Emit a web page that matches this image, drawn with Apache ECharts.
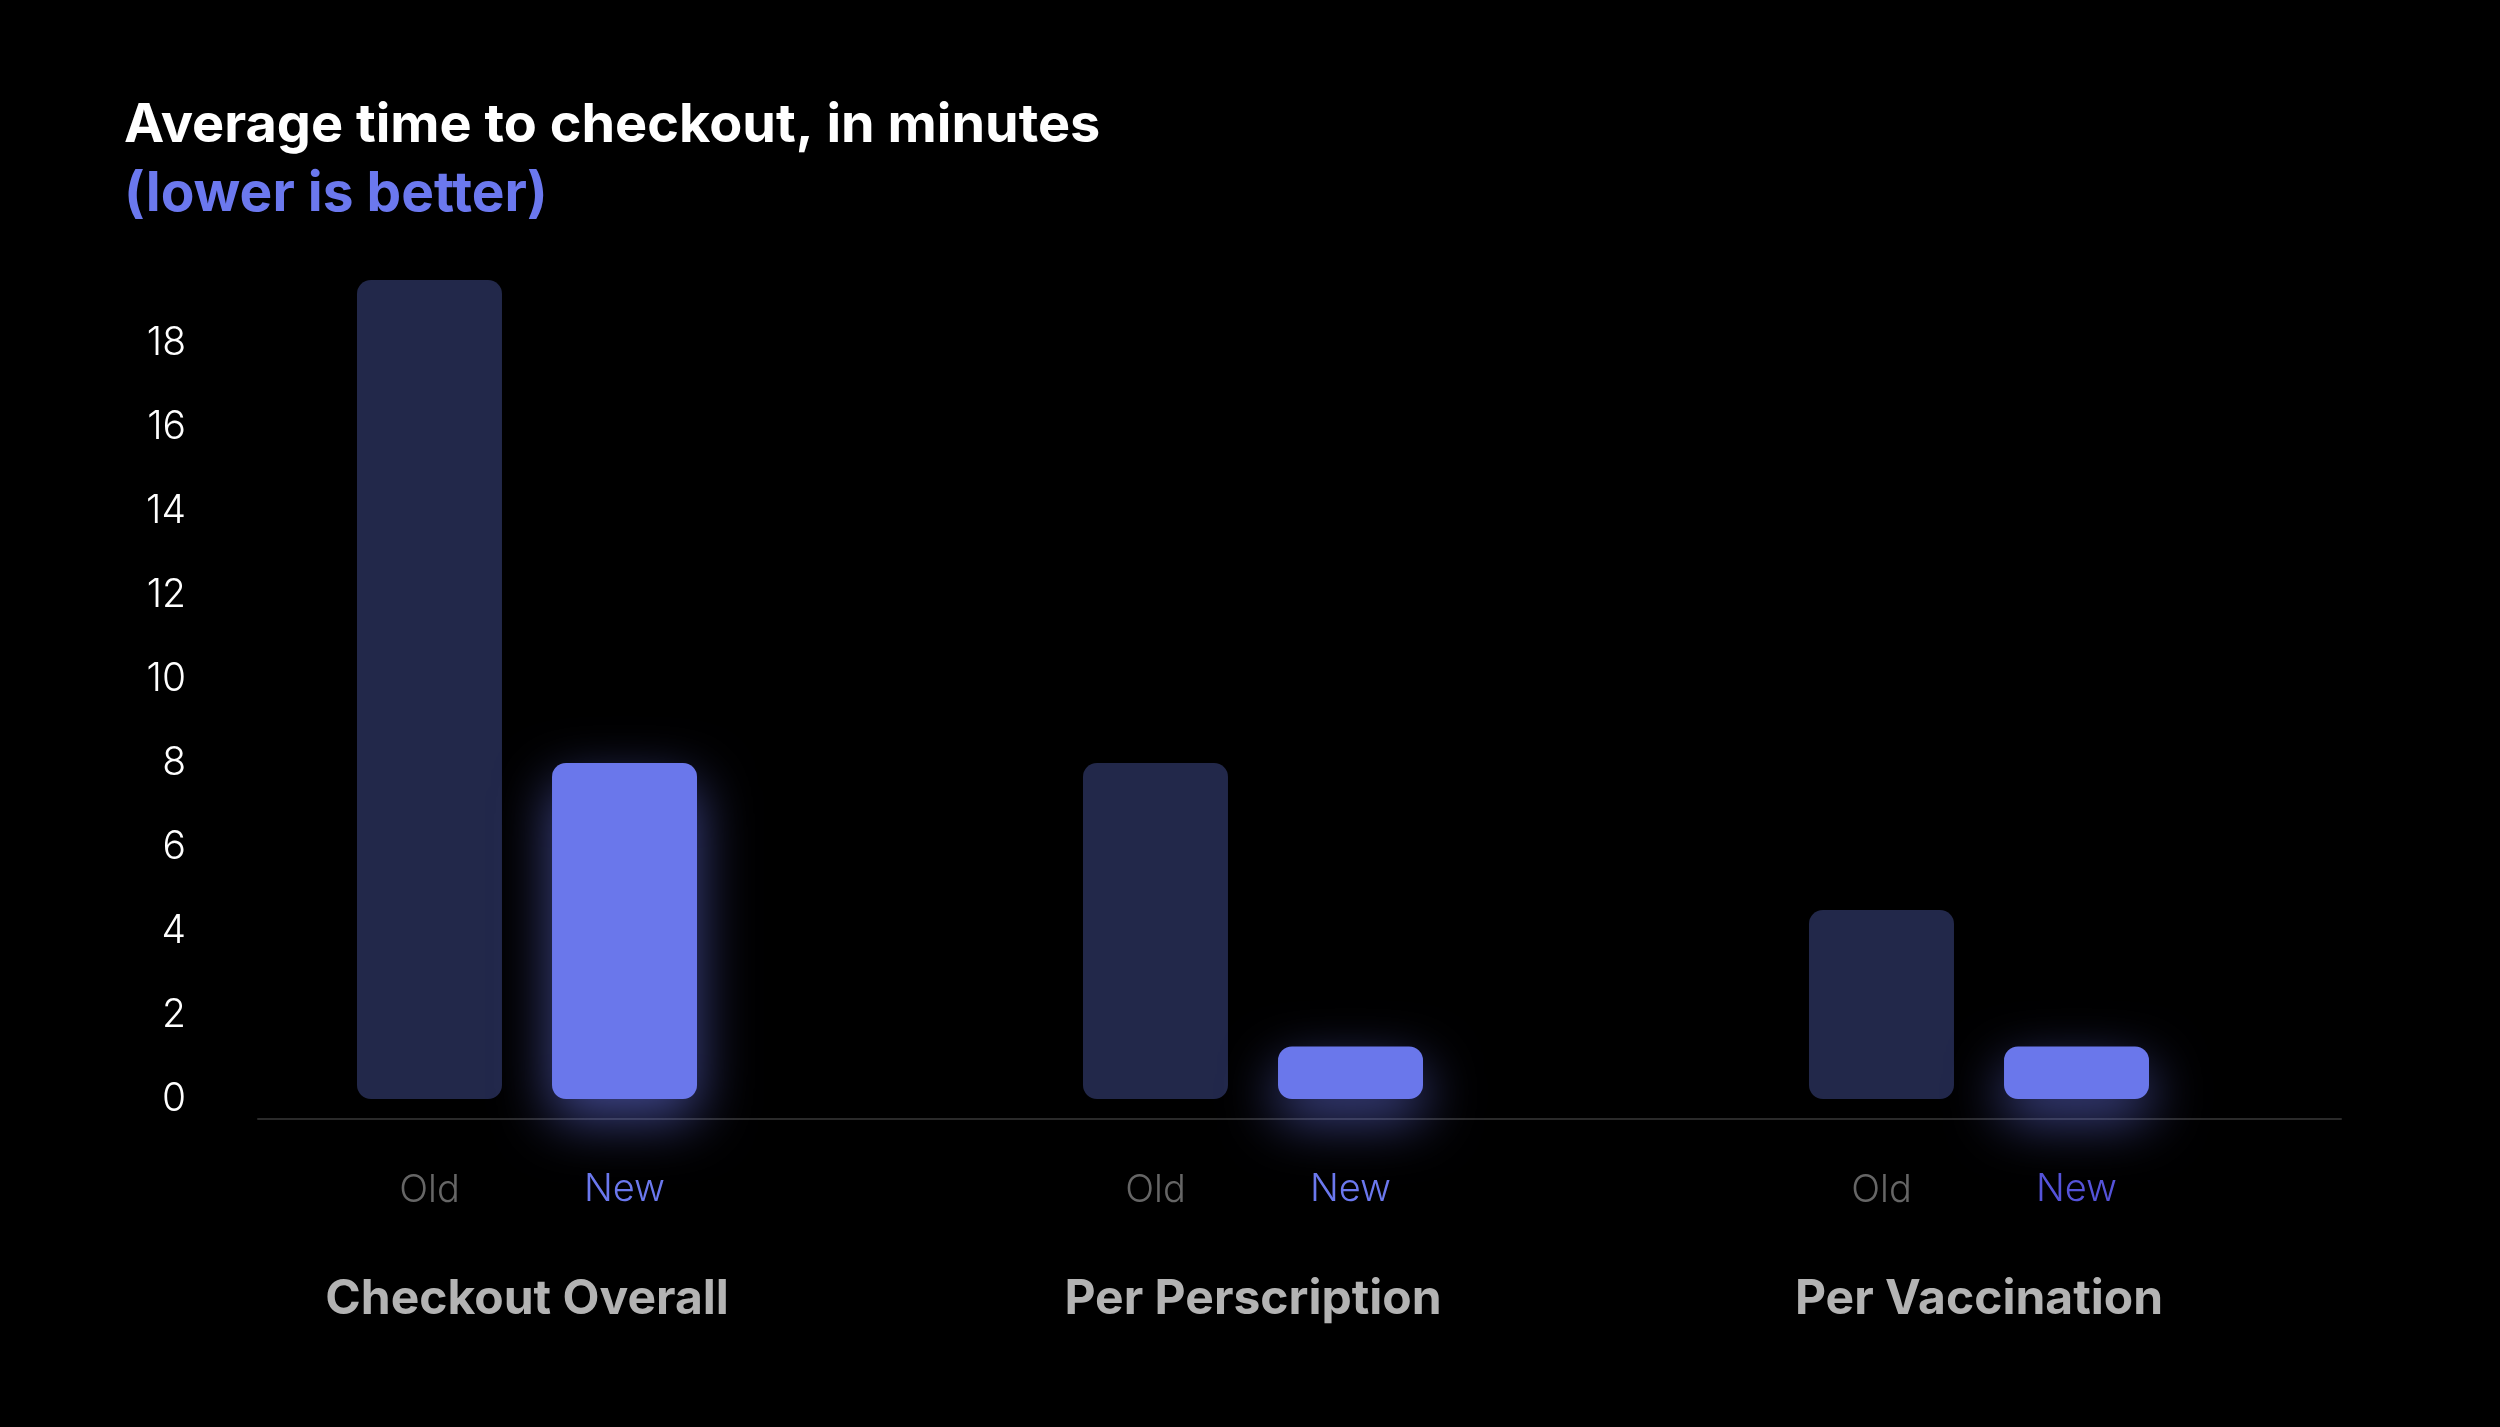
<!DOCTYPE html>
<html>
<head>
<meta charset="utf-8">
<script src="https://cdn.jsdelivr.net/npm/echarts@6/dist/echarts.min.js"></script>
<style>
html,body{margin:0;padding:0;background:#000;}
#chart{width:2500px;height:1427px;}
</style>
</head>
<body>
<div id="chart"></div>
<script>
const categories = ['Checkout Overall', 'Per Perscription', 'Per Vaccination'];
const oldValues = [19.5, 8, 4.5];
const newValues = [8, 1.25, 1.25];
const seriesNames = ['Old', 'New'];
const yMin = 0, yMax = 20, yInterval = 2;

const BOLD_FONT = 'Inter';
const LIGHT_FONT = 'Inter';
const newLabelColors = ['#6b78ee', '#6b78ee', '#5553d9'];

const chart = echarts.init(document.getElementById('chart'), null, {renderer: 'canvas'});
chart.setOption({
  backgroundColor: '#000000',
  animation: false,
  title: {
    text: 'Average time to checkout, in minutes',
    subtext: '(lower is better)',
    left: 124,
    top: 99,
    padding: 0,
    itemGap: 14,
    textStyle: {color: '#ffffff', fontFamily: BOLD_FONT, fontWeight: 'bold', fontSize: 54, lineHeight: 54},
    subtextStyle: {color: '#6b78ee', fontFamily: BOLD_FONT, fontWeight: 'bold', fontSize: 55, lineHeight: 55}
  },
  grid: [
    {left: 164, right: 158, top: 259, bottom: 328},
    {left: 258, right: 159, top: 1000, bottom: 308}
  ],
  xAxis: [
    {
      type: 'category', gridIndex: 0, data: categories,
      axisLine: {show: false}, axisTick: {show: false}, splitLine: {show: false},
      axisLabel: {margin: 177, color: '#b3b3b3', fontFamily: BOLD_FONT, fontWeight: 'bold', fontSize: 48}
    },
    {
      type: 'value', gridIndex: 1, min: 0, max: 1,
      axisLine: {show: true, lineStyle: {color: '#2a2a2a', width: 2}},
      axisTick: {show: false}, axisLabel: {show: false}, splitLine: {show: false}
    }
  ],
  yAxis: [
    {
      type: 'value', gridIndex: 0, min: yMin, max: yMax, interval: yInterval,
      axisLine: {show: false}, axisTick: {show: false}, splitLine: {show: false},
      axisLabel: {showMaxLabel: false, margin: -22, color: '#ffffff', fontFamily: LIGHT_FONT, fontWeight: 300, fontSize: 39}
    },
    {type: 'value', gridIndex: 1, show: false, min: 0, max: 1}
  ],
  series: [
    {
      name: seriesNames[0], type: 'bar', xAxisIndex: 0, yAxisIndex: 0,
      data: oldValues,
      barWidth: 145, barGap: '34.5%',
      itemStyle: {color: '#22284a', borderRadius: 14},
      label: {show: true, position: 'bottom', distance: 73, formatter: '{a}',
        color: '#666666', fontFamily: LIGHT_FONT, fontWeight: 300, fontSize: 38}
    },
    {
      name: seriesNames[1], type: 'bar', xAxisIndex: 0, yAxisIndex: 0,
      data: newValues.map((v, i) => ({value: v, label: {color: newLabelColors[i]}})),
      barWidth: 145, barGap: '34.5%',
      itemStyle: {color: '#6a77eb', borderRadius: 14,
        shadowColor: 'rgba(106,119,235,0.6)', shadowBlur: 55, shadowOffsetY: 20},
      label: {show: true, position: 'bottom', distance: 72, formatter: '{a}',
        fontFamily: LIGHT_FONT, fontWeight: 300, fontSize: 38}
    }
  ]
});
</script>
</body>
</html>
